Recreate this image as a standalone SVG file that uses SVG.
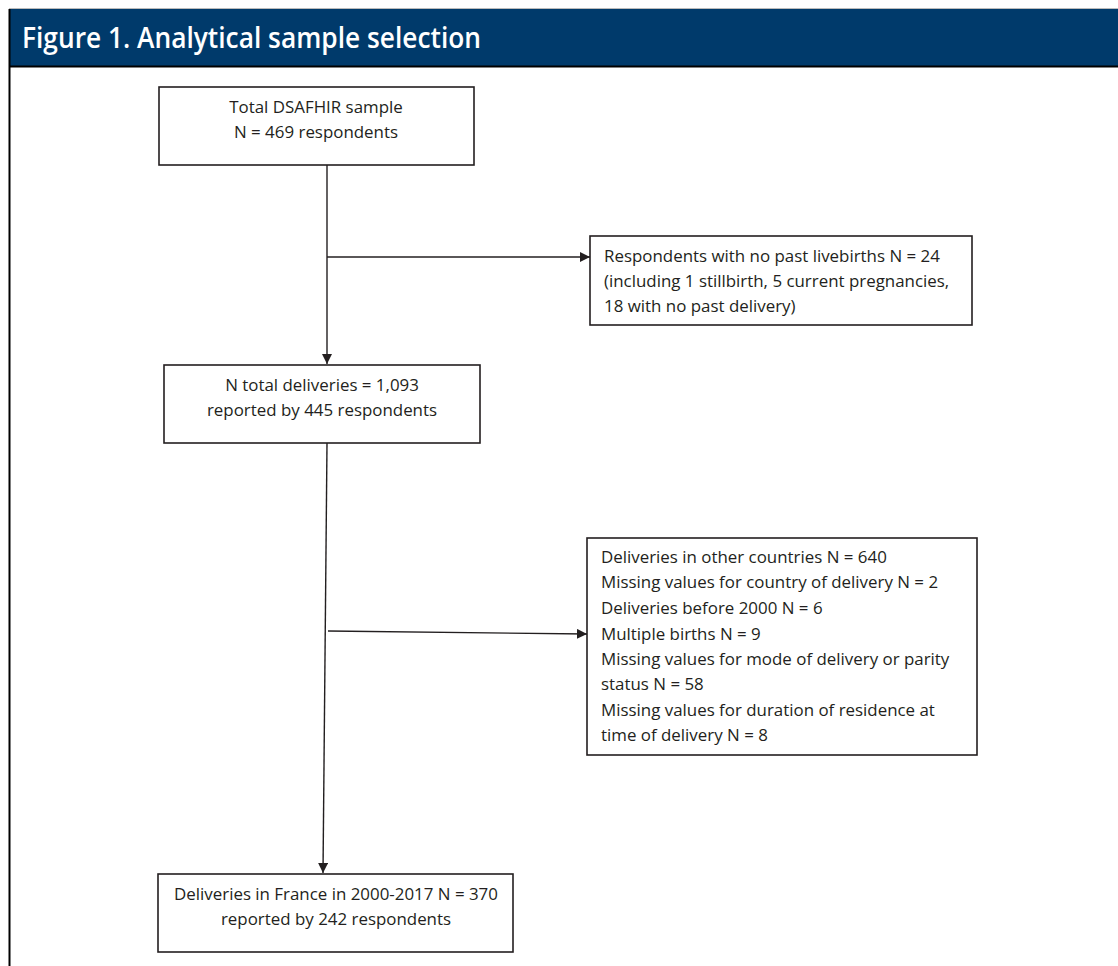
<svg xmlns="http://www.w3.org/2000/svg" width="1118" height="966" viewBox="0 0 1118 966">
<style>
.box{fill:#fff;stroke:#231f20;stroke-width:1.6}
.t{font-family:"Open Sans","Liberation Sans",sans-serif;font-size:16.9px;fill:#231f20}
.c{text-anchor:middle}
.ln{stroke:#231f20;stroke-width:1.4;fill:none}
</style>
<defs>
<marker id="ah" viewBox="0 0 10 10" refX="10" refY="5" markerWidth="10" markerHeight="10" markerUnits="userSpaceOnUse" orient="auto">
<path d="M0,0 L10,5 L0,10 z" fill="#231f20"/>
</marker>
</defs>
<rect x="0" y="0" width="1118" height="966" fill="#fff"/>
<line x1="9" y1="8.5" x2="1118" y2="8.5" stroke="#bbb" stroke-width="1"/>
<rect x="9" y="9" width="1109" height="57" fill="#003a6b"/>
<line x1="9" y1="66.5" x2="1118" y2="66.5" stroke="#000" stroke-width="2"/>
<line x1="9.5" y1="9" x2="9.5" y2="966" stroke="#000" stroke-width="2"/>
<text x="22" y="48" font-family="'Open Sans','Noto Sans',sans-serif" font-weight="600" font-size="29" fill="#fff" textLength="459" lengthAdjust="spacingAndGlyphs">Figure 1. Analytical sample selection</text>

<g id="connectors">
<line class="ln" x1="327" y1="165" x2="327" y2="364" marker-end="url(#ah)"/>
<line class="ln" x1="327" y1="257" x2="590" y2="257" marker-end="url(#ah)"/>
<line class="ln" x1="327" y1="443" x2="323" y2="873" marker-end="url(#ah)"/>
<line class="ln" x1="328" y1="631" x2="587" y2="634" marker-end="url(#ah)"/>
</g>

<g id="n1">
<rect class="box" x="159" y="87" width="315" height="78"/>
<text class="t c" x="316" y="113">Total DSAFHIR sample</text>
<text class="t c" x="316" y="138">N = 469 respondents</text>
</g>
<g id="n2">
<rect class="box" x="590" y="236" width="382" height="89"/>
<text class="t" x="604" y="262">Respondents with no past livebirths N = 24</text>
<text class="t" x="604" y="287">(including 1 stillbirth, 5 current pregnancies,</text>
<text class="t" x="604" y="312">18 with no past delivery)</text>
</g>
<g id="n3">
<rect class="box" x="164" y="365" width="316" height="78"/>
<text class="t c" x="322" y="391">N total deliveries = 1,093</text>
<text class="t c" x="322" y="416">reported by 445 respondents</text>
</g>
<g id="n4">
<rect class="box" x="587" y="538" width="390" height="217"/>
<text class="t" x="601" y="563">Deliveries in other countries N = 640</text>
<text class="t" x="601" y="588">Missing values for country of delivery N = 2</text>
<text class="t" x="601" y="614">Deliveries before 2000 N = 6</text>
<text class="t" x="601" y="640">Multiple births N = 9</text>
<text class="t" x="601" y="665">Missing values for mode of delivery or parity</text>
<text class="t" x="601" y="690">status N = 58</text>
<text class="t" x="601" y="716">Missing values for duration of residence at</text>
<text class="t" x="601" y="741">time of delivery N = 8</text>
</g>
<g id="n5">
<rect class="box" x="158" y="874" width="355" height="78"/>
<text class="t c" x="336" y="900">Deliveries in France in 2000-2017 N = 370</text>
<text class="t c" x="336" y="925">reported by 242 respondents</text>
</g>
</svg>
